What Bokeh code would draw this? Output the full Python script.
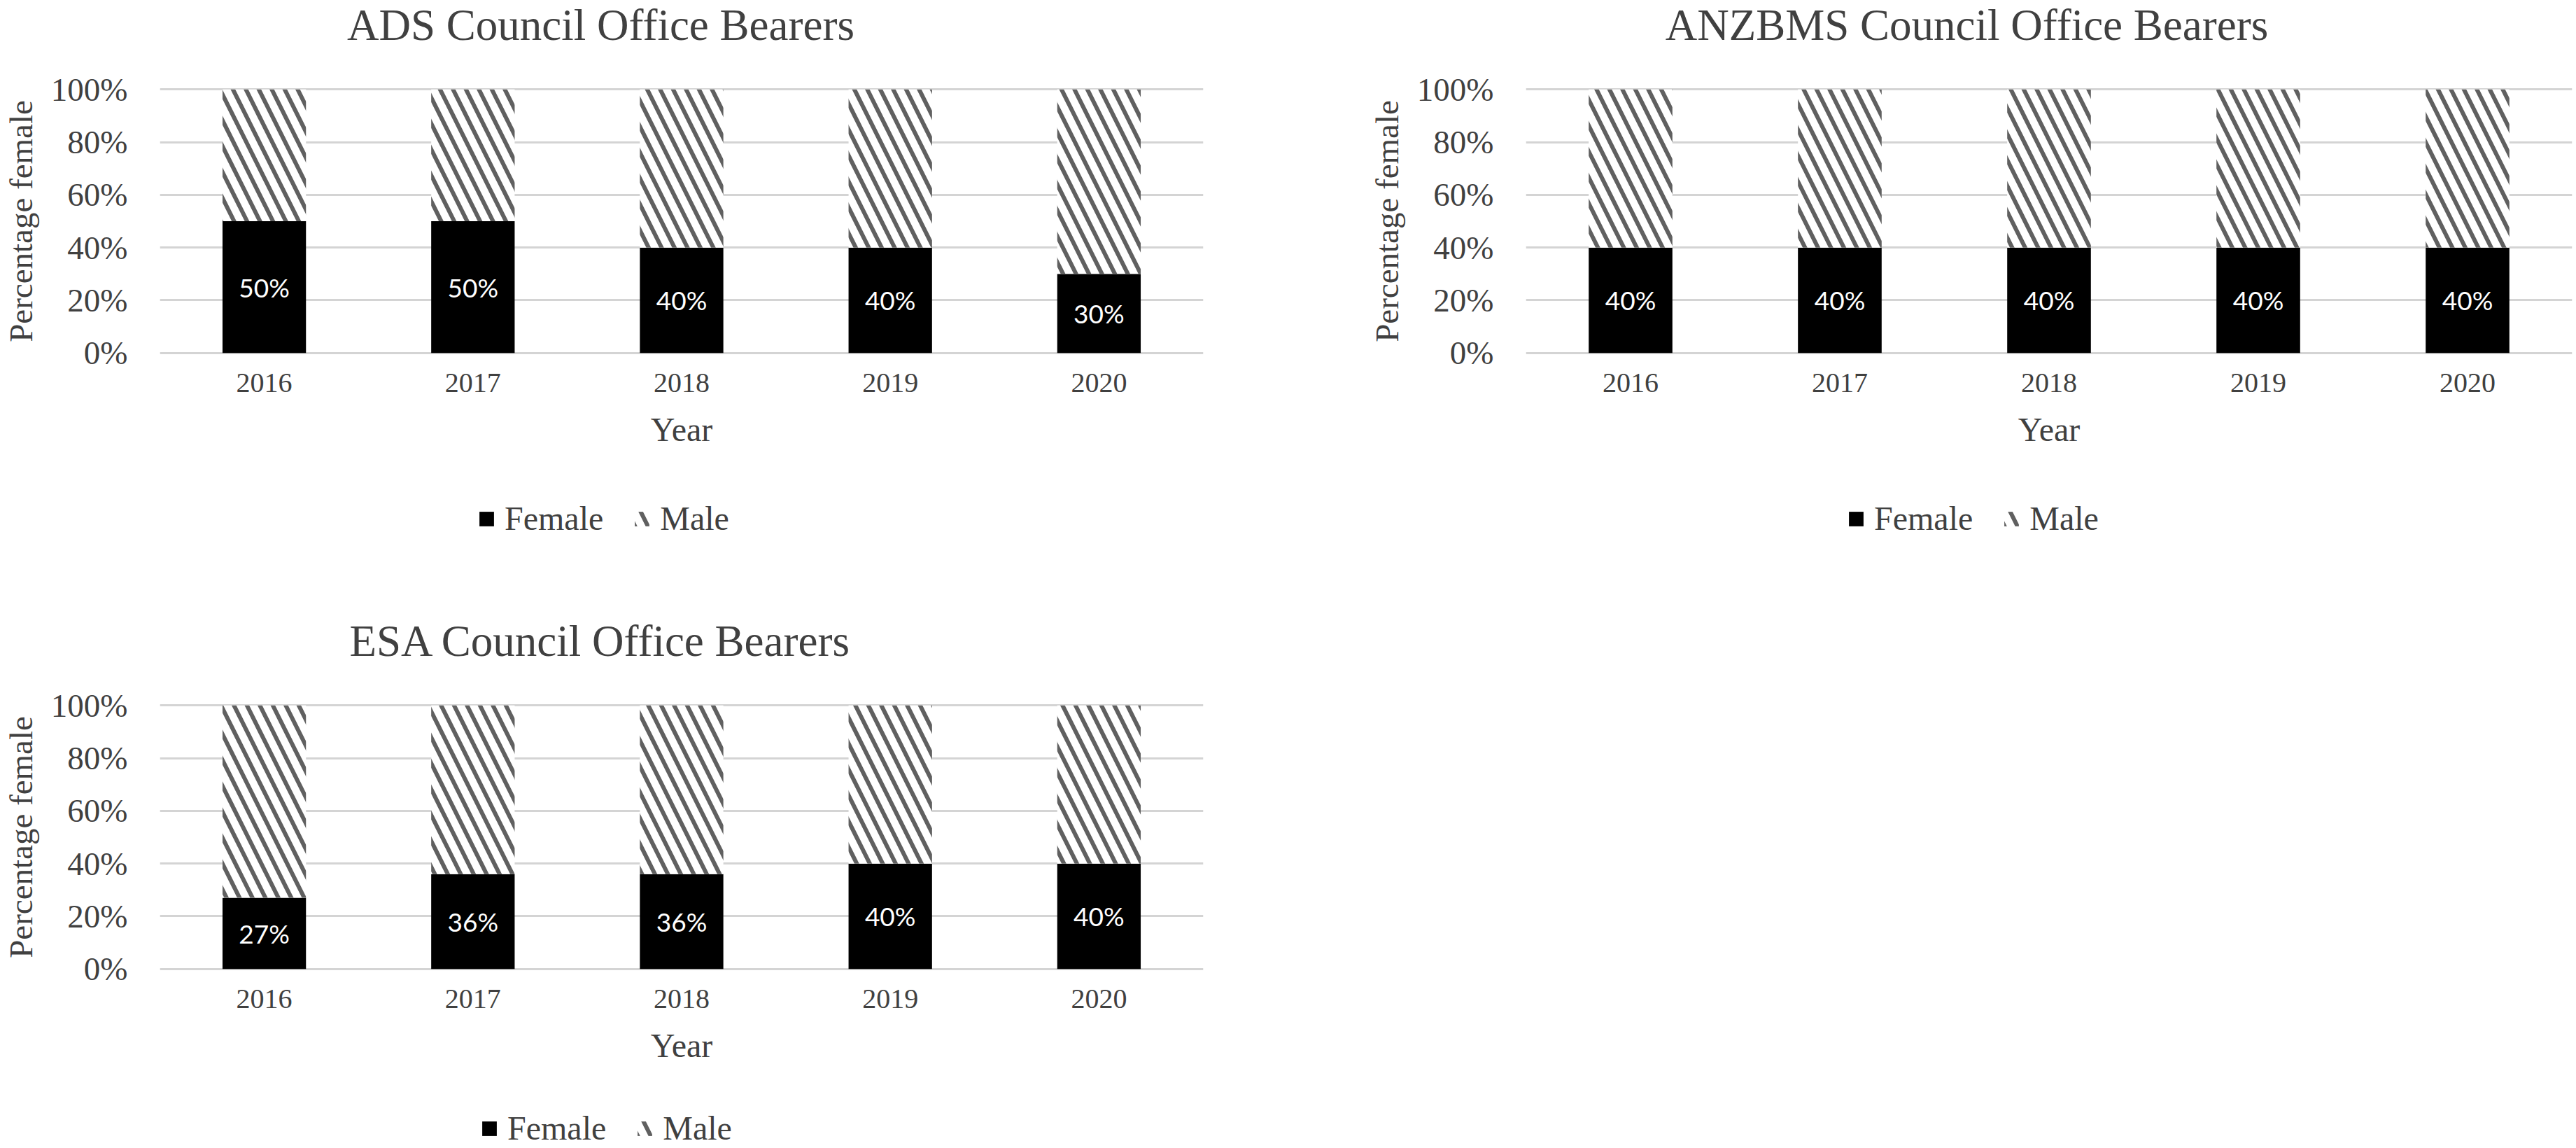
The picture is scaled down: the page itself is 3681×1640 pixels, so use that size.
from bokeh.plotting import figure
from bokeh.models import (FactorRange, Range1d, FixedTicker, NumeralTickFormatter,
                          Legend, LegendItem, Label, ColumnDataSource)
from bokeh.layouts import row, column
from bokeh.embed import file_html
from bokeh.resources import INLINE
from bokeh.core.properties import value

# ---------------- data ----------------
years = ["2016", "2017", "2018", "2019", "2020"]
ads_female = [50, 50, 40, 40, 30]
anzbms_female = [40, 40, 40, 40, 40]
esa_female = [27, 36, 36, 40, 40]
titles = ["ADS Council Office Bearers", "ANZBMS Council Office Bearers", "ESA Council Office Bearers"]
y_ticks = [0, 0.2, 0.4, 0.6, 0.8, 1.0]
series_names = ["Female", "Male"]
x_title = "Year"
y_title = "Percentage female"

SERIF = "Liberation Serif"
TXT = "#404040"
FEMALE_STYLE = dict(fill_color="black", line_color=None)
MALE_STYLE = dict(fill_color="white", line_color=None, hatch_pattern="\\",
                  hatch_color="#606060", hatch_weight=6, hatch_scale=37)


def make_source(female):
    male = [100 - v for v in female]
    return ColumnDataSource(dict(
        year=years,
        f_top=[v / 100 for v in female],
        m_top=[(f + m) / 100 for f, m in zip(female, male)],
        lab_y=[v / 200 for v in female],
        lab=[f"{v}%" for v in female],
    ))


def make_chart(title, src, width, height, left, right, top, bottom, title_y=90):
    p = figure(x_range=FactorRange(*years, range_padding=0),
               y_range=Range1d(-0.006, 1.006),
               width=width, height=height, title=None,
               output_backend="svg", toolbar_location=None,
               min_border_left=left, min_border_right=right,
               min_border_top=top, min_border_bottom=bottom)
    p.outline_line_color = None
    p.background_fill_color = "white"
    p.border_fill_color = "white"

    p.vbar(x="year", bottom=0, top="f_top", width=0.4, source=src, **FEMALE_STYLE)
    p.vbar(x="year", bottom="f_top", top="m_top", width=0.4, source=src, **MALE_STYLE)
    p.text(x="year", y="lab_y", text="lab", source=src,
           text_color="white", text_font=value("Lato"), text_font_size="37px",
           text_align="center", text_baseline="middle")

    # grid
    p.xgrid.visible = False
    p.ygrid.ticker = FixedTicker(ticks=y_ticks)
    p.ygrid.grid_line_color = "#d4d4d4"
    p.ygrid.grid_line_width = 3

    # y axis
    ya = p.yaxis[0]
    ya.ticker = FixedTicker(ticks=y_ticks)
    ya.formatter = NumeralTickFormatter(format="0%")
    ya.axis_line_color = None
    ya.major_tick_line_color = None
    ya.minor_tick_line_color = None
    ya.major_tick_out = 0
    ya.major_tick_in = 0
    ya.major_label_standoff = 46
    ya.major_label_text_font = SERIF
    ya.major_label_text_font_size = "47px"
    ya.major_label_text_color = TXT
    ya.axis_label = y_title
    ya.axis_label_text_font = SERIF
    ya.axis_label_text_font_size = "47px"
    ya.axis_label_text_font_style = "normal"
    ya.axis_label_text_color = TXT
    ya.axis_label_standoff = 14

    # x axis
    xa = p.xaxis[0]
    xa.axis_line_color = None
    xa.major_tick_line_color = None
    xa.minor_tick_line_color = None
    xa.major_tick_out = 0
    xa.major_tick_in = 0
    xa.major_label_standoff = 27
    xa.major_label_text_font = SERIF
    xa.major_label_text_font_size = "40px"
    xa.major_label_text_color = TXT
    xa.axis_label = x_title
    xa.axis_label_text_font = SERIF
    xa.axis_label_text_font_size = "48px"
    xa.axis_label_text_font_style = "normal"
    xa.axis_label_text_color = TXT
    xa.axis_label_standoff = 24

    # title (placed in the panel above the frame)
    p.add_layout(Label(x=630, y=title_y, x_units="screen", y_units="screen", text=title,
                       text_align="center", text_baseline="alphabetic",
                       text_font=SERIF, text_font_size="63px", text_color=TXT), "above")
    return p


def make_legend(src, width, height, x, y):
    p = figure(width=width, height=height, x_range=FactorRange(*years), y_range=Range1d(0, 1),
               x_axis_type=None, y_axis_type=None, title=None,
               output_backend="svg", toolbar_location=None, min_border=0)
    p.outline_line_color = None
    p.grid.visible = False
    rf = p.vbar(x="year", bottom=0, top="f_top", width=0.4, source=src, **FEMALE_STYLE)
    rm = p.vbar(x="year", bottom="f_top", top="m_top", width=0.4, source=src, **MALE_STYLE)
    rf.visible = False
    rm.visible = False
    legend = Legend(items=[LegendItem(label=series_names[0], renderers=[rf]),
                           LegendItem(label=series_names[1], renderers=[rm])],
                    location=(x, y), orientation="horizontal",
                    glyph_width=26, glyph_height=26, label_standoff=13, spacing=42,
                    padding=0, margin=0, border_line_color=None,
                    background_fill_alpha=0, inactive_fill_alpha=0,
                    label_text_font=SERIF, label_text_font_size="48px",
                    label_text_color=TXT)
    p.add_layout(legend)
    return p


ads_src = make_source(ads_female)
esa_src = make_source(esa_female)
anz_src = make_source(anzbms_female)

ads = make_chart(titles[0], ads_src, 1930, 700, 224, 211, 125, 194)
ads_leg = make_legend(ads_src, 1930, 140, 454, 72)
esa = make_chart(titles[2], esa_src, 1930, 716, 224, 211, 165, 170)
esa_leg = make_legend(esa_src, 1930, 84, 458, 1)
anz = make_chart(titles[1], anz_src, 1751, 700, 250, 6, 125, 194)
anz_leg = make_legend(anz_src, 1751, 940, 459, 872)

layout = row(column(ads, ads_leg, esa, esa_leg), column(anz, anz_leg))

open("out.html", "w").write(file_html(layout, INLINE))
